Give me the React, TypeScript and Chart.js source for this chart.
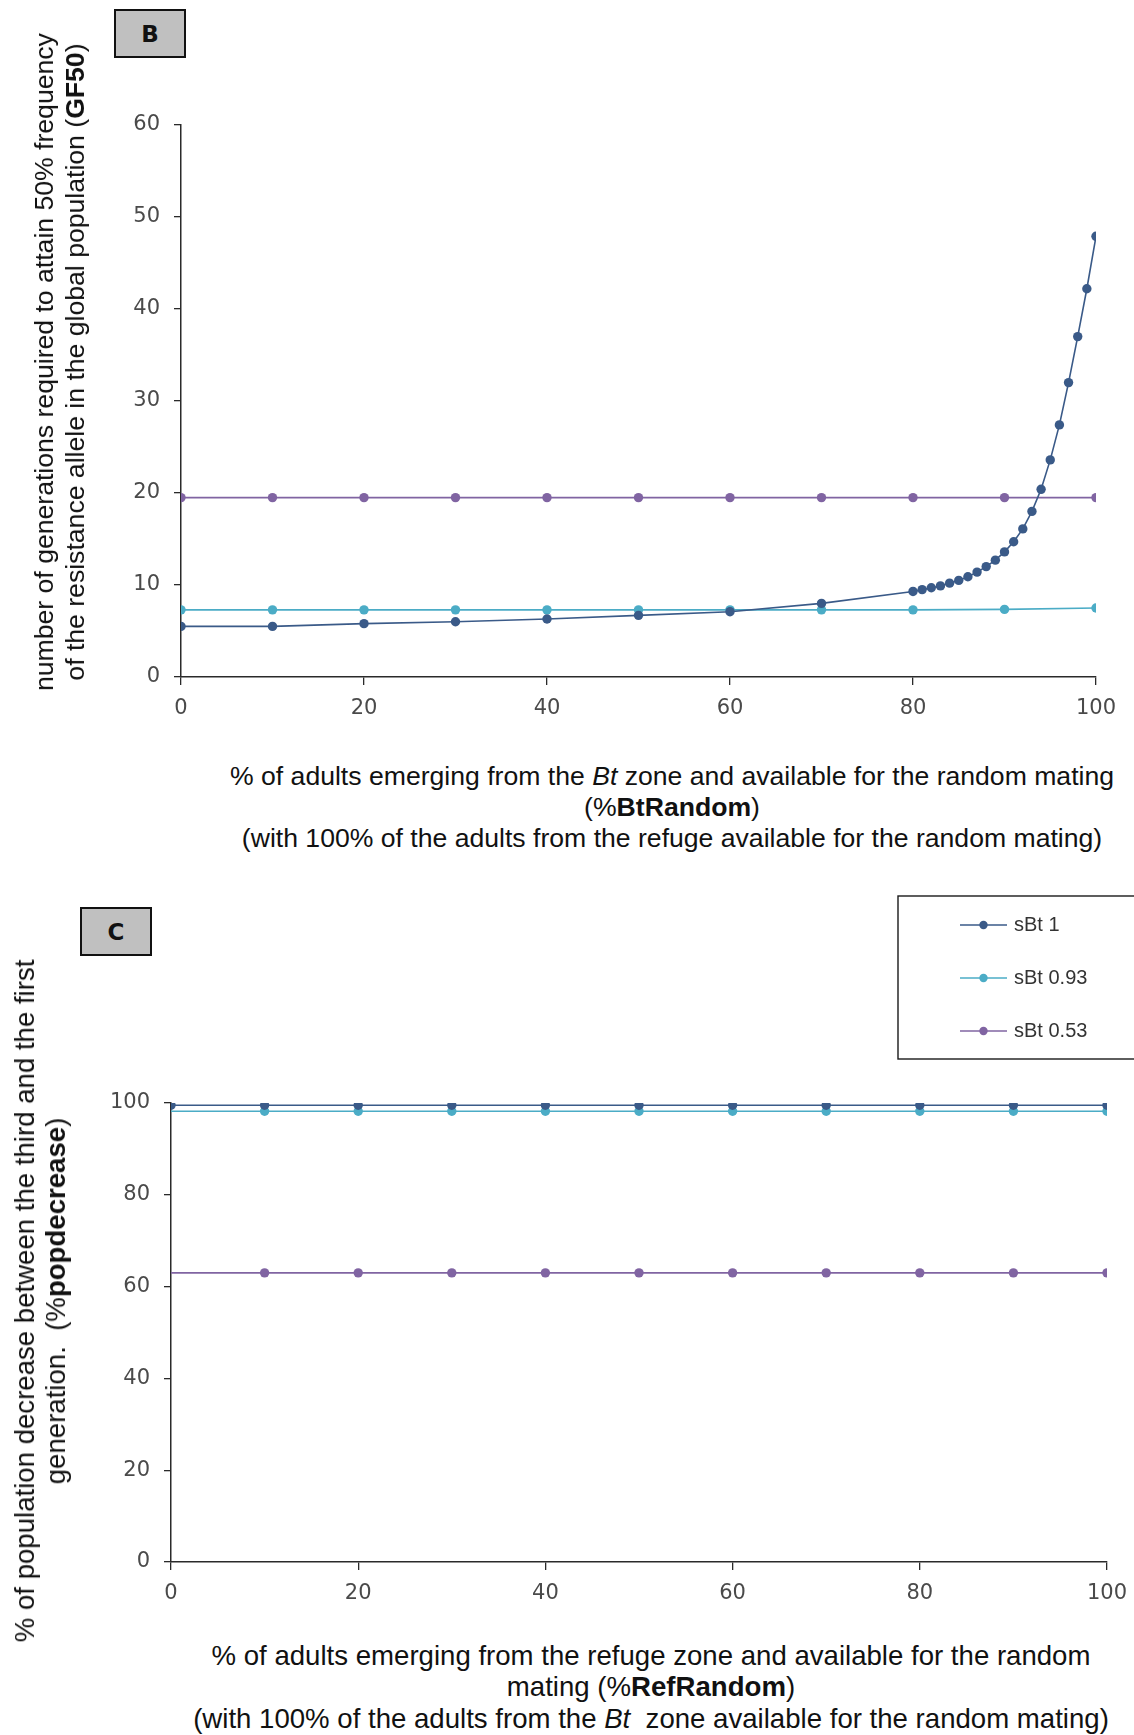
import React, { useEffect, useRef } from "react";
import { Chart, registerables } from "chart.js";

Chart.register(...registerables);

// ---- Series shared by both panels ----
const SERIES_LABELS = ["sBt 1", "sBt 0.93", "sBt 0.53"];
const SERIES_COLORS = ["#3a5a88", "#4bacc6", "#8064a2"];

// ---- Panel B: generations to reach 50% resistance allele frequency (GF50) ----
const btRandomCoarse = [0, 10, 20, 30, 40, 50, 60, 70, 80, 90, 100];
const btRandomFine = [
  0, 10, 20, 30, 40, 50, 60, 70, 80, 81, 82, 83, 84, 85, 86, 87, 88, 89, 90,
  91, 92, 93, 94, 95, 96, 97, 98, 99, 100,
];
const gf50Sbt1 = [
  5.5, 5.5, 5.8, 6.0, 6.3, 6.7, 7.1, 8.0, 9.3, 9.5, 9.7, 9.9, 10.2, 10.5,
  10.9, 11.4, 12.0, 12.7, 13.6, 14.7, 16.1, 18.0, 20.4, 23.6, 27.4, 32.0,
  37.0, 42.2, 47.9,
];
const gf50Sbt093 = [7.3, 7.3, 7.3, 7.3, 7.3, 7.3, 7.3, 7.3, 7.3, 7.35, 7.5];
const gf50Sbt053 = [19.5, 19.5, 19.5, 19.5, 19.5, 19.5, 19.5, 19.5, 19.5, 19.5, 19.5];
const gf50YTicks = { min: 0, max: 60, step: 10 };

// ---- Panel C: % population decrease between 3rd and 1st generation ----
const refRandom = [0, 10, 20, 30, 40, 50, 60, 70, 80, 90, 100];
const popdecSbt1 = [99.5, 99.5, 99.5, 99.5, 99.5, 99.5, 99.5, 99.5, 99.5, 99.5, 99.5];
const popdecSbt093 = [98.2, 98.2, 98.2, 98.2, 98.2, 98.2, 98.2, 98.2, 98.2, 98.2, 98.2];
const popdecSbt053 = [63, 63, 63, 63, 63, 63, 63, 63, 63, 63, 63];
const popdecYTicks = { min: 0, max: 100, step: 20 };

const xTicks = { min: 0, max: 100, step: 20 };

const TICK_FONT = { family: "'DejaVu Sans', Verdana, sans-serif", size: 21 };
const TICK_COLOR = "#4a4a4a";
const AXIS_COLOR = "#2a2a2a";
const MARK_R = 4.7;

type Pt = { x: number; y: number };
const zip = (xs: number[], ys: number[]): Pt[] => xs.map((x, i) => ({ x, y: ys[i] }));

function lineDataset(label: string, color: string, data: Pt[], radius: number | number[]) {
  return {
    label,
    data,
    borderColor: color,
    backgroundColor: color,
    pointBackgroundColor: color,
    pointBorderColor: color,
    borderWidth: 1.6,
    pointRadius: radius,
    pointBorderWidth: 0,
    tension: 0,
  };
}

// Framed legend drawn inside the canvas at a fixed spot
const boxLegend = {
  id: "boxLegend",
  afterDraw(chart: any, _args: any, opts: any) {
    if (!opts || !opts.display) return;
    const ctx = chart.ctx as CanvasRenderingContext2D;
    ctx.save();
    ctx.strokeStyle = "#1a1a1a";
    ctx.lineWidth = 1.4;
    ctx.strokeRect(opts.x, opts.y, opts.w, opts.h);
    chart.data.datasets.forEach((ds: any, i: number) => {
      const cy = opts.y + opts.rowStart + i * opts.rowGap;
      ctx.strokeStyle = ds.borderColor;
      ctx.lineWidth = 1.6;
      ctx.beginPath();
      ctx.moveTo(opts.lineX0, cy);
      ctx.lineTo(opts.lineX1, cy);
      ctx.stroke();
      ctx.fillStyle = ds.borderColor;
      ctx.beginPath();
      ctx.arc((opts.lineX0 + opts.lineX1) / 2, cy, 4.2, 0, Math.PI * 2);
      ctx.fill();
      ctx.fillStyle = "#333";
      ctx.font = opts.font;
      ctx.textBaseline = "middle";
      ctx.textAlign = "left";
      ctx.fillText(ds.label, opts.textX, cy);
    });
    ctx.restore();
  },
};

function makeOptions(
  yt: { min: number; max: number; step: number },
  padding: { top: number; right: number; left: number; bottom: number },
  yWidth: number,
  xHeight: number,
  legend: any
) {
  return {
    responsive: false,
    animation: false as const,
    layout: { padding },
    plugins: {
      legend: { display: false },
      tooltip: { enabled: false },
      boxLegend: legend,
    },
    scales: {
      x: {
        type: "linear" as const,
        min: xTicks.min,
        max: xTicks.max,
        afterFit: (s: any) => {
          s.height = xHeight;
        },
        border: { display: true, color: AXIS_COLOR, width: 1.5 },
        grid: { drawOnChartArea: false, drawTicks: true, tickLength: 8, color: AXIS_COLOR, lineWidth: 1.3 },
        ticks: { stepSize: xTicks.step, font: TICK_FONT, color: TICK_COLOR, padding: 11, maxRotation: 0 },
      },
      y: {
        type: "linear" as const,
        min: yt.min,
        max: yt.max,
        afterFit: (s: any) => {
          s.width = yWidth;
        },
        border: { display: true, color: AXIS_COLOR, width: 1.5 },
        grid: { drawOnChartArea: false, drawTicks: true, tickLength: 7, color: AXIS_COLOR, lineWidth: 1.3 },
        ticks: { stepSize: yt.step, font: TICK_FONT, color: TICK_COLOR, padding: 14 },
      },
    },
  };
}

function ChartCanvas({ config, left, top, width, height }: any) {
  const ref = useRef<HTMLCanvasElement | null>(null);
  useEffect(() => {
    if (!ref.current) return;
    const chart = new Chart(ref.current, config);
    return () => chart.destroy();
  }, [config]);
  return (
    <canvas
      ref={ref}
      width={width}
      height={height}
      style={{ position: "absolute", left, top, width, height }}
    />
  );
}

const CANVAS_W = 1160;

const panelBConfig: any = {
  type: "line",
  data: {
    datasets: [
      lineDataset(SERIES_LABELS[0], SERIES_COLORS[0], zip(btRandomFine, gf50Sbt1), MARK_R),
      lineDataset(SERIES_LABELS[1], SERIES_COLORS[1], zip(btRandomCoarse, gf50Sbt093), MARK_R),
      lineDataset(SERIES_LABELS[2], SERIES_COLORS[2], zip(btRandomCoarse, gf50Sbt053), MARK_R),
    ],
  },
  options: makeOptions(gf50YTicks, { top: 125, right: CANVAS_W - 1096, left: 0, bottom: 0 }, 181, 48, {
    display: false,
  }),
};

const C_TOP = 880;
// the first marker of these two series sits hidden at the axis
const hideFirst = [0, MARK_R, MARK_R, MARK_R, MARK_R, MARK_R, MARK_R, MARK_R, MARK_R, MARK_R, MARK_R];

const panelCConfig: any = {
  type: "line",
  data: {
    datasets: [
      lineDataset(SERIES_LABELS[0], SERIES_COLORS[0], zip(refRandom, popdecSbt1), MARK_R),
      lineDataset(SERIES_LABELS[1], SERIES_COLORS[1], zip(refRandom, popdecSbt093), hideFirst),
      lineDataset(SERIES_LABELS[2], SERIES_COLORS[2], zip(refRandom, popdecSbt053), hideFirst),
    ],
  },
  options: makeOptions(popdecYTicks, { top: 1103 - C_TOP, right: CANVAS_W - 1107, left: 0, bottom: 0 }, 171, 48, {
    display: true,
    x: 898,
    y: 16,
    w: 280,
    h: 163,
    rowStart: 29,
    rowGap: 53,
    lineX0: 960,
    lineX1: 1007,
    textX: 1014,
    font: "20px 'Liberation Sans', Arial, sans-serif",
  }),
  plugins: [boxLegend],
};

const TEXT_FONT = "'Liberation Sans', Arial, sans-serif";

const titleLine: React.CSSProperties = {
  position: "absolute",
  whiteSpace: "nowrap",
  fontFamily: TEXT_FONT,
  lineHeight: "31px",
  color: "#111",
  transform: "translate(-50%, -50%)",
};

function HLine({ x, y, size, children }: any) {
  return <div style={{ ...titleLine, fontSize: size, left: x, top: y }}>{children}</div>;
}

function VTitle({ x, y, size, children }: any) {
  return (
    <div
      style={{
        ...titleLine,
        fontSize: size,
        left: x,
        top: y,
        textAlign: "center",
        transform: "translate(-50%, -50%) rotate(-90deg)",
      }}
    >
      {children}
    </div>
  );
}

function PanelTag({ x, y, letter }: any) {
  return (
    <div
      style={{
        position: "absolute",
        left: x,
        top: y,
        width: 72,
        height: 49,
        boxSizing: "border-box",
        background: "#c0c0c0",
        border: "2px solid #111",
        display: "flex",
        alignItems: "center",
        justifyContent: "center",
        fontFamily: "'DejaVu Sans', Verdana, sans-serif",
        fontWeight: "bold",
        fontSize: 23,
        color: "#111",
      }}
    >
      {letter}
    </div>
  );
}

const B_SIZE = 26.6;
const C_SIZE = 27.6;

export default function App() {
  return (
    <div
      style={{
        position: "absolute",
        left: 0,
        top: 0,
        width: 1134,
        height: 1735,
        background: "#fff",
        overflow: "hidden",
      }}
    >
      <ChartCanvas config={panelBConfig} left={0} top={0} width={CANVAS_W} height={725} />
      <ChartCanvas config={panelCConfig} left={0} top={C_TOP} width={CANVAS_W} height={1610 - C_TOP} />

      <PanelTag x={114} y={9} letter="B" />
      <PanelTag x={80} y={907} letter="C" />

      <VTitle x={60} y={362} size={B_SIZE}>
        number of generations required to attain 50% frequency
        <br />
        of the resistance allele in the global population (<b>GF50</b>)
      </VTitle>
      <HLine x={672} y={776} size={B_SIZE}>
        % of adults emerging from the <i>Bt</i> zone and available for the random mating
      </HLine>
      <HLine x={672} y={807} size={B_SIZE}>
        (%<b>BtRandom</b>)
      </HLine>
      <HLine x={672} y={838} size={B_SIZE}>
        (with 100% of the adults from the refuge available for the random mating)
      </HLine>

      <VTitle x={40} y={1301} size={C_SIZE}>
        % of population decrease between the third and the first
        <br />
        generation.&nbsp; (%<b>popdecrease</b>)
      </VTitle>
      <HLine x={651} y={1655} size={C_SIZE}>
        % of adults emerging from the refuge zone and available for the random
      </HLine>
      <HLine x={651} y={1686} size={C_SIZE}>
        mating (%<b>RefRandom</b>)
      </HLine>
      <HLine x={651} y={1718} size={C_SIZE}>
        (with 100% of the adults from the <i>Bt</i>&nbsp; zone available for the random mating)
      </HLine>
    </div>
  );
}
